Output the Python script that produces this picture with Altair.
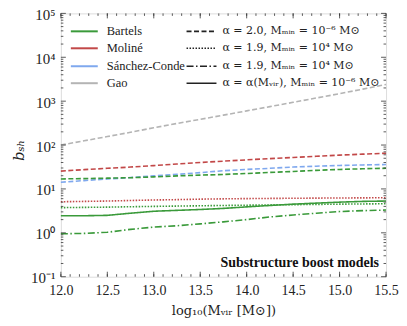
import altair as alt
import pandas as pd

xs = [12.0, 12.25, 12.5, 12.75, 13.0, 13.25, 13.5, 13.75, 14.0, 14.25, 14.5, 14.75, 15.0, 15.25, 15.5]

gao_dashed = [100, 125, 156, 195, 248, 310, 385, 480, 600, 750, 940, 1180, 1480, 1880, 2400]
moline_dashed = [25.5, 27.5, 29.5, 31.5, 34, 37, 40, 43, 46, 49, 52, 55.5, 59, 62, 65]
sanchez_dashed = [14.2, 15.5, 16.8, 18.2, 19.8, 21.5, 23.5, 26, 27.8, 29.5, 31.5, 33, 34.3, 35.2, 36]
bartels_dashed = [16.9, 17.2, 17.6, 18.0, 18.8, 19.8, 20.6, 21.4, 22.5, 23.8, 25, 26.5, 27.8, 28.8, 29.6]
moline_dotted = [5.1, 5.2, 5.3, 5.45, 5.6, 5.7, 5.85, 5.95, 6.02, 6.08, 6.13, 6.18, 6.22, 6.26, 6.3]
bartels_dotted = [3.75, 3.8, 3.85, 3.93, 4.0, 4.07, 4.13, 4.2, 4.26, 4.32, 4.38, 4.44, 4.5, 4.55, 4.6]
bartels_solid = [2.45, 2.45, 2.5, 2.8, 3.1, 3.25, 3.4, 3.6, 3.9, 4.2, 4.5, 4.75, 5.0, 5.2, 5.3]
bartels_dashdot = [0.95, 0.97, 1.03, 1.2, 1.35, 1.45, 1.6, 1.78, 2.0, 2.3, 2.55, 2.8, 3.05, 3.2, 3.3]

series = [
    ("gao_dashed", "Gao", "dashed", gao_dashed),
    ("moline_dashed", "Moliné", "dashed", moline_dashed),
    ("sanchez_dashed", "Sánchez-Conde", "dashed", sanchez_dashed),
    ("bartels_dashed", "Bartels", "dashed", bartels_dashed),
    ("moline_dotted", "Moliné", "dotted", moline_dotted),
    ("bartels_dotted", "Bartels", "dotted", bartels_dotted),
    ("bartels_solid", "Bartels", "solid", bartels_solid),
    ("bartels_dashdot", "Bartels", "dashdot", bartels_dashdot),
]

model_names = ["Bartels", "Moliné", "Sánchez-Conde", "Gao"]
model_colors = ["#3a9a3a", "#c24848", "#7fa8ee", "#b4b4b4"]
style_names = ["dashed", "dotted", "dashdot", "solid"]
style_dashes = [[5, 2.5], [1.5, 1.5], [7, 2.5, 1.5, 2.5], [1, 0]]
style_labels = [
    "α = 2.0, Mₘᵢₙ = 10⁻⁶ M⊙",
    "α = 1.9, Mₘᵢₙ = 10⁴ M⊙",
    "α = 1.9, Mₘᵢₙ = 10⁴ M⊙",
    "α = α(Mᵥᵢᵣ), Mₘᵢₙ = 10⁻⁶ M⊙",
]

rows = []
for sid, model, style, vals in series:
    for x, y in zip(xs, vals):
        rows.append({"sid": sid, "model": model, "style": style, "x": x, "y": y})
df = pd.DataFrame(rows)

W, H = 326, 264
FONT = "DejaVu Serif"
TFONT = "Liberation Serif"

xscale = alt.Scale(domain=[12.0, 15.5], nice=False, zero=False)
yscale = alt.Scale(type="log", domain=[0.1, 100000], nice=False)

ylabel_expr = ("datum.value >= 99999 ? '10⁵' : datum.value >= 9999 ? '10⁴' : datum.value >= 999 ? '10³' : "
               "datum.value >= 99 ? '10²' : datum.value >= 9 ? '10¹' : datum.value >= 0.9 ? '10⁰' : '10⁻¹'")

lines = alt.Chart(df).mark_line(strokeWidth=1.6).encode(
    x=alt.X("x:Q", scale=xscale,
            axis=alt.Axis(values=[12.0, 12.5, 13.0, 13.5, 14.0, 14.5, 15.0, 15.5], format=".1f",
                          ticks=False, domain=False, grid=False, labelFont=TFONT, labelFontSize=14,
                          labelFlush=False, labelBound=False,
                          labelColor="#222", labelPadding=7, title="log₁₀(Mᵥᵢᵣ [M⊙])",
                          titleFont=FONT, titleFontSize=13, titleFontWeight="normal", titleColor="#222",
                          titleX=163, titleY=28, titleBaseline="top", titleAnchor="middle")),
    y=alt.Y("y:Q", scale=yscale,
            axis=alt.Axis(values=[0.1, 1, 10, 100, 1000, 10000, 100000], labelExpr=ylabel_expr,
                          ticks=False, domain=False, grid=False, labelFont=TFONT, labelFontSize=15,
                          labelFlush=False, labelBound=False, labelOffset=1,
                          labelColor="#222", labelPadding=6, title="bₛₕ", titleFont=FONT,
                          titleFontSize=15, titleFontStyle="italic", titleFontWeight="normal",
                          titleColor="#222", titleX=-42, titleY=137, titleAngle=-90,
                          titleAlign="center", titleBaseline="middle")),
    color=alt.Color("model:N", scale=alt.Scale(domain=model_names, range=model_colors), legend=None),
    strokeDash=alt.StrokeDash("style:N", scale=alt.Scale(domain=style_names, range=style_dashes), legend=None),
    detail="sid:N",
)

# ticks (inward, mirrored)
ymajor = [0.1, 1, 10, 100, 1000, 10000, 100000]
yminor = [m * 10.0 ** k for k in range(-1, 5) for m in range(2, 10)]
xmajor = [12.0, 12.5, 13.0, 13.5, 14.0, 14.5, 15.0, 15.5]
xminor = [round(12.0 + 0.1 * i, 1) for i in range(36)]

ymaj_df = pd.DataFrame({"y": ymajor})
ymin_df = pd.DataFrame({"y": yminor})
xmaj_df = pd.DataFrame({"x": xmajor})
xmin_df = pd.DataFrame({"x": xminor})

tick_color = "#333"
def yticks(d, ln):
    a = alt.Chart(d).mark_rule(color=tick_color, strokeWidth=0.8).encode(
        y=alt.Y("y:Q", scale=yscale), x=alt.value(0), x2=alt.value(ln))
    b = alt.Chart(d).mark_rule(color=tick_color, strokeWidth=0.8).encode(
        y=alt.Y("y:Q", scale=yscale), x=alt.value(W), x2=alt.value(W - ln))
    return a + b

def xticks(d, ln):
    a = alt.Chart(d).mark_rule(color=tick_color, strokeWidth=0.8).encode(
        x=alt.X("x:Q", scale=xscale), y=alt.value(H), y2=alt.value(H - ln))
    b = alt.Chart(d).mark_rule(color=tick_color, strokeWidth=0.8).encode(
        x=alt.X("x:Q", scale=xscale), y=alt.value(0), y2=alt.value(ln))
    return a + b

ticks = yticks(ymaj_df, 5) + yticks(ymin_df, 2.5) + xticks(xmaj_df, 5) + xticks(xmin_df, 2.5)

# legend
leg_rows_y = [18, 35, 53, 70]
leg_models = pd.DataFrame({"model": model_names, "ly": leg_rows_y})
leg_styles = pd.DataFrame({"style": style_names, "label": style_labels, "ly": leg_rows_y})

leg_model_lines = alt.Chart(leg_models).mark_rule(strokeWidth=2).encode(
    x=alt.value(10), x2=alt.value(37), y=alt.Y("ly:Q", scale=None),
    color=alt.Color("model:N", scale=alt.Scale(domain=model_names, range=model_colors), legend=None),
)
leg_model_text = alt.Chart(leg_models).mark_text(align="left", baseline="middle", font=TFONT,
                                                 fontSize=12.5, color="#222").encode(
    x=alt.value(46), y=alt.Y("ly:Q", scale=None), text="model:N")

leg_style_lines = alt.Chart(leg_styles).mark_rule(strokeWidth=1.6, color="#222").encode(
    x=alt.value(126), x2=alt.value(156), y=alt.Y("ly:Q", scale=None),
    strokeDash=alt.StrokeDash("style:N", scale=alt.Scale(domain=style_names, range=style_dashes), legend=None),
)
leg_style_text = alt.Chart(leg_styles).mark_text(align="left", baseline="middle", font=FONT,
                                                 fontSize=11, color="#222").encode(
    x=alt.value(162), y=alt.Y("ly:Q", scale=None), text="label:N")

annot = alt.Chart(pd.DataFrame({"t": ["Substructure boost models"]})).mark_text(
    align="right", baseline="middle", font=TFONT, fontSize=14, fontWeight="bold",
    color="#111").encode(
    x=alt.value(319), y=alt.value(250), text="t:N")

chart = alt.layer(
    lines, ticks, leg_model_lines, leg_model_text, leg_style_lines, leg_style_text, annot
).resolve_scale(color="independent", strokeDash="independent").properties(
    width=W, height=H,
    autosize=alt.AutoSizeParams(type="none"),
    padding={"left": 53, "top": 5, "right": 13, "bottom": 41},
).configure_view(stroke="#333", strokeWidth=1.2).configure(background="white")

chart.save("out.html", embed_options={"renderer": "svg", "actions": False})
